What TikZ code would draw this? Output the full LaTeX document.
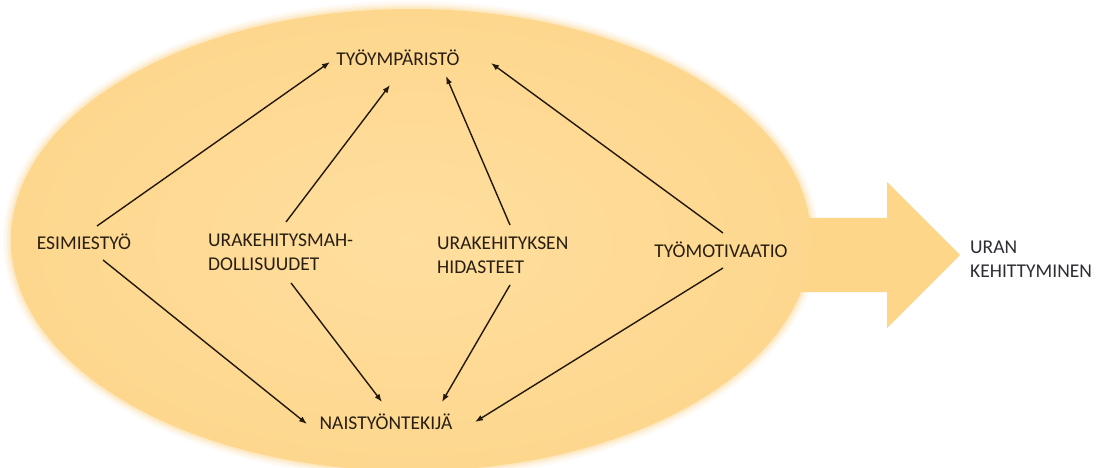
\documentclass[tikz,border=0pt]{standalone}
\usepackage{fontspec}
\setmainfont{Carlito}
\usetikzlibrary{arrows.meta}
\definecolor{ellout}{RGB}{253,215,142}
\definecolor{ellin}{RGB}{255,222,158}
\definecolor{arrowfill}{RGB}{253,214,138}
\definecolor{ink}{RGB}{40,30,18}
\definecolor{ink2}{RGB}{45,45,52}
\definecolor{linkcol}{RGB}{35,24,12}
\tikzset{
  lbl/.style={font=\fontsize{19.5}{24}\selectfont, text=ink, inner sep=0pt, align=left},
  link/.style={draw=linkcol, line width=1.4pt, -{Latex[length=8pt,width=6pt]}}
}
\begin{document}
\begin{tikzpicture}[x=1pt,y=-1pt]
\useasboundingbox (0,0) rectangle (1104,468);
\fill[white] (0,0) rectangle (1104,468);
% big arrow
\fill[arrowfill] (700,218) -- (887,218) -- (887,182) -- (960,255) -- (887,328) -- (887,292) -- (700,292) -- cycle;
% soft edge of ellipse
\foreach \d/\o in {8/0.08,6/0.12,4/0.18,2/0.3}{
  \fill[ellout,opacity=\o] (411,240) ellipse [x radius=400+\d, y radius=231+\d];
}
\shade[inner color=ellin, outer color=ellout] (411,240) ellipse [x radius=400, y radius=231];
% labels
\node[lbl] (tyo) at (398,58) {TYÖYMPÄRISTÖ};
\node[lbl] (esi) at (84,242) {ESIMIESTYÖ};
\node[lbl, anchor=west] (ura) at (208,252) {URAKEHITYSMAH-\\DOLLISUUDET};
\node[lbl, anchor=west] (hid) at (437,255) {URAKEHITYKSEN\\HIDASTEET};
\node[lbl] (mot) at (721,250) {TYÖMOTIVAATIO};
\node[lbl] (nais) at (386,422) {NAISTYÖNTEKIJÄ};
\node[lbl, anchor=west, text=ink2] (uran) at (970,259) {URAN\\KEHITTYMINEN};
% connectors
\draw[link] ([shift={(13,-16)}]esi.center) -- ([shift={(-68,4)}]tyo.center);
\draw[link] ([shift={(78,-30)}]ura.west) -- ([shift={(-8,27)}]tyo.center);
\draw[link] ([shift={(73,-30)}]hid.west) -- ([shift={(48,18)}]tyo.center);
\draw[link] ([shift={(2,-17)}]mot.center) -- ([shift={(93,5)}]tyo.center);
\draw[link] ([shift={(19,18)}]esi.center) -- ([shift={(-79,2)}]nais.center);
\draw[link] ([shift={(83,31)}]ura.west) -- ([shift={(-4,-20)}]nais.center);
\draw[link] ([shift={(73,30)}]hid.west) -- ([shift={(56,-20)}]nais.center);
\draw[link] ([shift={(2,18)}]mot.center) -- ([shift={(89,0)}]nais.center);
\end{tikzpicture}
\end{document}
